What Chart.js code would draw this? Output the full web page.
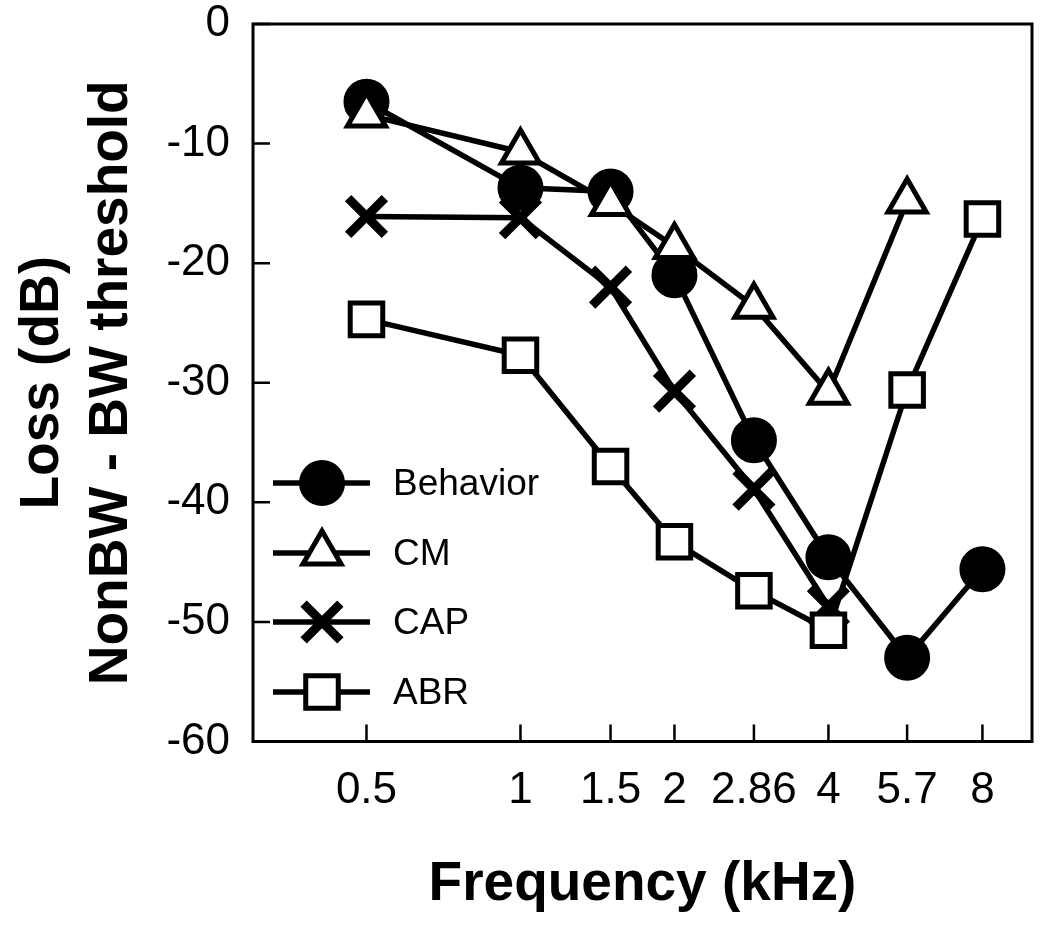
<!DOCTYPE html>
<html>
<head>
<meta charset="utf-8">
<script src="https://cdn.jsdelivr.net/npm/chart.js@4.4.1/dist/chart.umd.min.js"></script>
<style>
  html, body { margin: 0; padding: 0; background: #ffffff; }
  #wrap { width: 1050px; height: 930px; }
</style>
</head>
<body>
<div id="wrap"><canvas id="c" width="1050" height="930"></canvas></div>
<script>
// ---- data ----
const frequencies = [0.5, 1, 1.5, 2, 2.86, 4, 5.7, 8];
const tickLabels = ['0.5', '1', '1.5', '2', '2.86', '4', '5.7', '8'];
const behavior = [-6.5, -13.7, -14.0, -21.0, -34.8, -44.6, -53.0, -45.6];
const cm = [-7.6, -10.7, -15.0, -18.6, -23.6, -30.8, -14.8];
const cap = [-16.1, -16.2, -22.0, -30.7, -38.9, -48.7];
const abr = [-24.7, -27.7, -37.0, -43.3, -47.4, -50.7, -30.6, -16.3];
const seriesNames = ['Behavior', 'CM', 'CAP', 'ABR'];
const yTitle = ['Loss (dB)', 'NonBW - BW threshold'];
const xTitle = 'Frequency (kHz)';

const FONT = "'Liberation Sans', Arial, Helvetica, sans-serif";

function pts(vals) { return vals.map((v, i) => ({ x: frequencies[i], y: v })); }

const datasets = [
  { label: seriesNames[0], data: pts(behavior), order: 2,
    pointStyle: 'circle', pointRadius: 21, pointBorderWidth: 4,
    pointBackgroundColor: '#000', pointBorderColor: '#000' },
  { label: seriesNames[1], data: pts(cm), order: 1,
    pointStyle: 'triangle', pointRadius: 22, pointBorderWidth: 5,
    pointBackgroundColor: '#fff', pointBorderColor: '#000' },
  { label: seriesNames[2], data: pts(cap), order: 4,
    pointStyle: 'crossRot', pointRadius: 26, pointBorderWidth: 9,
    pointBackgroundColor: '#000', pointBorderColor: '#000' },
  { label: seriesNames[3], data: pts(abr), order: 3,
    pointStyle: 'rect', pointRadius: 23, pointBorderWidth: 5,
    pointBackgroundColor: '#fff', pointBorderColor: '#000' }
].map(d => Object.assign({
  borderColor: '#000', borderWidth: 5.5, fill: false, tension: 0,
  pointHoverRadius: d.pointRadius, clip: false, showLine: true
}, d));

const frameAndLegend = {
  id: 'frameAndLegend',
  afterDraw(chart) {
    const ctx = chart.ctx;
    const a = chart.chartArea;
    const xs = chart.scales.x, ys = chart.scales.y;
    ctx.save();
    ctx.strokeStyle = '#000';
    ctx.lineCap = 'butt';
    // frame
    ctx.lineWidth = 3;
    ctx.strokeRect(a.left, a.top, a.right - a.left, a.bottom - a.top);
    // inward ticks
    ctx.lineWidth = 2.5;
    ctx.beginPath();
    frequencies.forEach(f => {
      const px = xs.getPixelForValue(f);
      ctx.moveTo(px, a.bottom);
      ctx.lineTo(px, a.bottom - 17);
    });
    ys.ticks.forEach(t => {
      const py = ys.getPixelForValue(t.value);
      ctx.moveTo(a.left, py);
      ctx.lineTo(a.left + 17, py);
    });
    ctx.stroke();
    // legend
    const rowY = [483, 553, 622, 692];
    const x0 = 273, x1 = 370, mx = 322, tx = 393;
    chart.data.datasets.forEach((ds, i) => {
      const y = rowY[i];
      ctx.lineWidth = ds.borderWidth;
      ctx.strokeStyle = '#000';
      ctx.beginPath();
      ctx.moveTo(x0, y); ctx.lineTo(x1, y);
      ctx.stroke();
      ctx.fillStyle = ds.pointBackgroundColor;
      ctx.strokeStyle = ds.pointBorderColor;
      ctx.lineWidth = ds.pointBorderWidth;
      Chart.helpers.drawPoint(ctx, {
        pointStyle: ds.pointStyle, radius: ds.pointRadius,
        rotation: 0, borderWidth: ds.pointBorderWidth
      }, mx, y);
      ctx.fillStyle = '#000';
      ctx.font = '37px ' + FONT;
      ctx.textBaseline = 'middle';
      ctx.textAlign = 'left';
      ctx.fillText(ds.label, tx, y + 2);
    });
    ctx.restore();
  }
};

new Chart(document.getElementById('c'), {
  type: 'line',
  data: { datasets },
  options: {
    responsive: false,
    animation: false,
    events: [],
    layout: { autoPadding: false, padding: { top: 24, right: 18, left: 0, bottom: 0 } },
    plugins: { legend: { display: false }, tooltip: { enabled: false } },
    scales: {
      x: {
        type: 'logarithmic',
        min: 0.3, max: 10,
        afterBuildTicks(scale) { scale.ticks = frequencies.map(v => ({ value: v })); },
        afterFit(scale) {
          scale.height = 188.5;
          scale.paddingLeft = 0; scale.paddingRight = 0;
        },
        ticks: {
          autoSkip: false, maxRotation: 0, minRotation: 0,
          padding: 23, color: '#000',
          font: { family: FONT, size: 44 },
          callback(value) {
            const i = frequencies.indexOf(value);
            return i >= 0 ? tickLabels[i] : '';
          }
        },
        grid: { drawOnChartArea: false, drawTicks: false, display: true },
        border: { display: false },
        title: {
          display: true, text: xTitle, color: '#000',
          font: { family: FONT, size: 55, weight: 'bold', lineHeight: 1.2 },
          padding: { top: 0, bottom: 12 }
        }
      },
      y: {
        type: 'linear',
        min: -60, max: 0,
        afterFit(scale) {
          scale.width = 253;
          scale.paddingTop = 0; scale.paddingBottom = 0;
        },
        ticks: {
          stepSize: 10, padding: 23, color: '#000',
          font: { family: FONT, size: 44 }
        },
        grid: { drawOnChartArea: false, drawTicks: false, display: true },
        border: { display: false },
        title: {
          display: true, text: yTitle, color: '#000',
          font: { family: FONT, size: 55, weight: 'bold', lineHeight: 1.26 },
          padding: { top: 8, bottom: 0 }
        }
      }
    }
  },
  plugins: [frameAndLegend]
});
</script>
</body>
</html>
